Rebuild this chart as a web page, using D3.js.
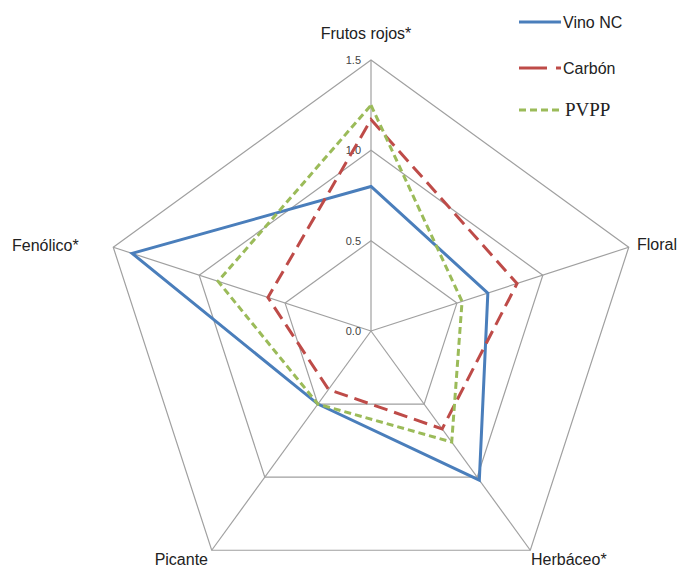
<!DOCTYPE html>
<html>
<head>
<meta charset="utf-8">
<script src="https://cdn.jsdelivr.net/npm/d3@7"></script>
<style>
  body { margin: 0; background: #fff; }
  svg text { font-family: "Liberation Sans", Arial, sans-serif; fill: #222; }
</style>
</head>
<body>
<svg id="chart" width="686" height="570"></svg>
<script>
// axes in clockwise order, starting at top
var axes = ["Frutos rojos*", "Floral", "Herbáceo*", "Picante", "Fenólico*"];
var levels = [0.0, 0.5, 1.0, 1.5];
var levelLabels = ["0.0", "0.5", "1.0", "1.5"];

var vinoNC = [0.80, 0.68, 1.02, 0.50, 1.39];
var carbon = [1.17, 0.85, 0.67, 0.40, 0.60];
var pvpp   = [1.25, 0.53, 0.76, 0.50, 0.89];

var seriesNames = ["Vino NC", "Carbón", "PVPP"];

var svg = d3.select("#chart");
var cx = 371, cy = 331, R = 271;

var r = d3.scaleLinear().domain([0, 1.5]).range([0, R]);
var angle = d3.scalePoint().domain(axes.concat("_end")).range([0, 2 * Math.PI]);

function pt(axis, v) {
  var a = angle(axis);
  return [cx + r(v) * Math.sin(a), cy - r(v) * Math.cos(a)];
}

var g = svg.append("g");

// grid rings
levels.slice(1).forEach(function(lv){
  g.append("polygon")
    .attr("points", axes.map(function(ax){ return pt(ax, lv).join(","); }).join(" "))
    .attr("fill", "none")
    .attr("stroke", "#a0a0a0")
    .attr("stroke-width", 1.2);
});

// spokes
axes.forEach(function(ax){
  var p = pt(ax, 1.5);
  g.append("line")
    .attr("x1", cx).attr("y1", cy)
    .attr("x2", p[0]).attr("y2", p[1])
    .attr("stroke", "#a0a0a0")
    .attr("stroke-width", 1.2);
});

// tick labels along top axis
levels.forEach(function(lv, i){
  g.append("text")
    .attr("x", cx - 10)
    .attr("y", cy - r(lv) + 4)
    .attr("text-anchor", "end")
    .attr("font-size", 11)
    .style("fill", "#444")
    .text(levelLabels[i]);
});

// axis labels
var labelPos = {
  "Frutos rojos*": {x: 366, y: 39, anchor: "middle"},
  "Floral": {x: 637, y: 250, anchor: "start"},
  "Herbáceo*": {x: 531, y: 565, anchor: "start"},
  "Picante": {x: 208, y: 565, anchor: "end"},
  "Fenólico*": {x: 12, y: 251, anchor: "start"}
};
axes.forEach(function(ax){
  var lp = labelPos[ax];
  svg.append("text")
    .attr("x", lp.x).attr("y", lp.y)
    .attr("text-anchor", lp.anchor)
    .attr("font-size", 16)
    .text(ax);
});

var styles = [
  {data: vinoNC, color: "#4a7ebb", dash: null},
  {data: carbon, color: "#be4b48", dash: "14,7"},
  {data: pvpp,   color: "#9bbb59", dash: "7,4"}
];

var line = d3.line().curve(d3.curveLinearClosed);

styles.forEach(function(s){
  svg.append("path")
    .attr("d", line(axes.map(function(ax, i){ return pt(ax, s.data[i]); })))
    .attr("fill", "none")
    .attr("stroke", s.color)
    .attr("stroke-width", 3)
    .attr("stroke-linejoin", "miter")
    .attr("stroke-dasharray", s.dash);
});

// legend
var legend = svg.append("g");
var legY = [22, 68, 110];
seriesNames.forEach(function(name, i){
  var y = legY[i];
  var s = styles[i];
  if (i === 1) {
    legend.append("line").attr("x1", 519).attr("x2", 547).attr("y1", y).attr("y2", y)
      .attr("stroke", s.color).attr("stroke-width", 3);
    legend.append("line").attr("x1", 556).attr("x2", 561).attr("y1", y).attr("y2", y)
      .attr("stroke", s.color).attr("stroke-width", 3);
  } else {
    legend.append("line").attr("x1", 519).attr("x2", 561).attr("y1", y).attr("y2", y)
      .attr("stroke", s.color).attr("stroke-width", 3)
      .attr("stroke-dasharray", s.dash);
  }
  legend.append("text")
    .attr("x", i === 2 ? 565 : 563).attr("y", y + 6)
    .attr("font-size", i === 2 ? 19 : 16)
    .style("font-family", i === 2 ? "'Liberation Serif', 'Times New Roman', serif" : null)
    .text(name);
});
</script>
</body>
</html>
